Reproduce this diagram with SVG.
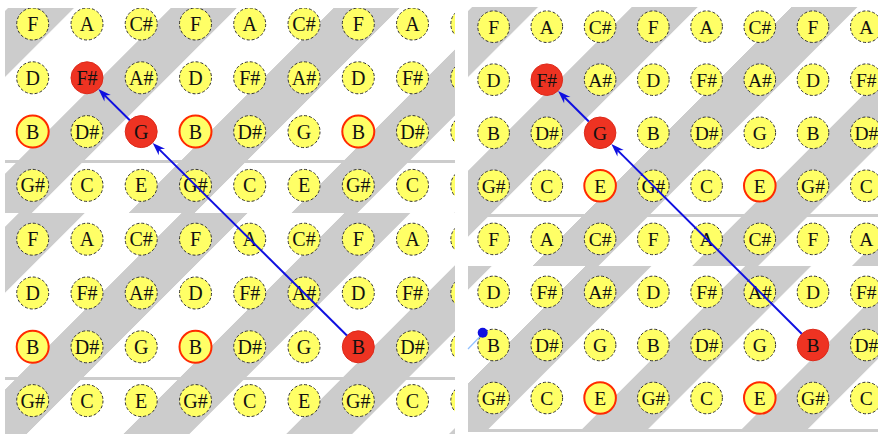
<svg xmlns="http://www.w3.org/2000/svg" width="878" height="434" viewBox="0 0 878 434">
<style>
.n circle{fill:#ffff66;stroke:#333;stroke-width:1;stroke-dasharray:3 2}
.hl circle{stroke:#ff2a00;stroke-width:2;stroke-dasharray:none}
.on circle{fill:#ee3322;stroke:#dd2a1a;stroke-width:1;stroke-dasharray:none}
text{font-family:"Liberation Serif","Times New Roman",serif;font-size:20px;text-anchor:middle;fill:#111}
.R text{font-size:19.5px}
.bar{fill:#cccccc}
.arr{stroke:#1010e0;stroke-width:2;fill:none;marker-end:url(#ah)}
</style>
<defs>
<marker id="ah" viewBox="-9 -5 15 10" refX="0" refY="0" markerWidth="15" markerHeight="10" markerUnits="userSpaceOnUse" orient="auto"><path d="M5,0 L-8,-4.5 L-4,0 L-8,4.5 Z" fill="#1010e0"/></marker>
<pattern id="pL1" patternUnits="userSpaceOnUse" width="162.8" height="10" patternTransform="translate(16,0) skewX(-45)"><rect x="0" y="0" width="66" height="10" fill="#cccccc"/></pattern>
<pattern id="pL2" patternUnits="userSpaceOnUse" width="162.8" height="10" patternTransform="translate(69,0) skewX(-45)"><rect x="0" y="0" width="66" height="10" fill="#cccccc"/></pattern>
<pattern id="pR1" patternUnits="userSpaceOnUse" width="159.7" height="10" patternTransform="translate(0,0) skewX(-45)"><rect x="0" y="0" width="66" height="10" fill="#cccccc"/></pattern>
<pattern id="pR2" patternUnits="userSpaceOnUse" width="159.7" height="10" patternTransform="translate(53,0) skewX(-45)"><rect x="0" y="0" width="66" height="10" fill="#cccccc"/></pattern>
<clipPath id="cL"><rect x="5" y="8" width="450" height="426"/></clipPath>
<clipPath id="cR"><rect x="468" y="7" width="410" height="427"/></clipPath>
</defs>
<rect width="878" height="434" fill="#ffffff"/>
<g id="bgL" clip-path="url(#cL)">
<rect x="5" y="8" width="450" height="153" fill="url(#pL1)"/>
<rect x="5" y="163" width="450" height="50" fill="url(#pL1)"/>
<rect x="5" y="213" width="450" height="164" fill="url(#pL2)"/>
<rect x="5" y="380" width="450" height="54" fill="url(#pL2)"/>
<rect class="bar" x="5" y="160" width="450" height="3"/>
<rect class="bar" x="5" y="377" width="450" height="3"/>
</g>
<g id="bgR" clip-path="url(#cR)">
<rect x="468" y="7" width="410" height="207" fill="url(#pR1)"/>
<rect x="468" y="217" width="410" height="49" fill="url(#pR1)"/>
<rect x="468" y="266" width="410" height="163" fill="url(#pR2)"/>
<rect class="bar" x="468" y="214" width="410" height="3"/>
<rect class="bar" x="468" y="429" width="410" height="3"/>
</g>
<g id="nodesL" clip-path="url(#cL)">
<g id="L1-1" class="n"><circle cx="32.7" cy="24" r="16"/><text x="32.7" y="31">F</text></g>
<g id="L1-2" class="n"><circle cx="87" cy="24" r="16"/><text x="87" y="31">A</text></g>
<g id="L1-3" class="n"><circle cx="141.2" cy="24" r="16"/><text x="141.2" y="31">C#</text></g>
<g id="L1-4" class="n"><circle cx="195.5" cy="24" r="16"/><text x="195.5" y="31">F</text></g>
<g id="L1-5" class="n"><circle cx="249.7" cy="24" r="16"/><text x="249.7" y="31">A</text></g>
<g id="L1-6" class="n"><circle cx="304" cy="24" r="16"/><text x="304" y="31">C#</text></g>
<g id="L1-7" class="n"><circle cx="358.3" cy="24" r="16"/><text x="358.3" y="31">F</text></g>
<g id="L1-8" class="n"><circle cx="412.5" cy="24" r="16"/><text x="412.5" y="31">A</text></g>
<g id="L1-9" class="n"><circle cx="466.8" cy="24" r="16"/></g>
<g id="L2-1" class="n"><circle cx="32.7" cy="77.8" r="16"/><text x="32.7" y="84.8">D</text></g>
<g id="L2-2" class="n on"><circle cx="87" cy="77.8" r="16"/><text x="87" y="84.8">F#</text></g>
<g id="L2-3" class="n"><circle cx="141.2" cy="77.8" r="16"/><text x="141.2" y="84.8">A#</text></g>
<g id="L2-4" class="n"><circle cx="195.5" cy="77.8" r="16"/><text x="195.5" y="84.8">D</text></g>
<g id="L2-5" class="n"><circle cx="249.7" cy="77.8" r="16"/><text x="249.7" y="84.8">F#</text></g>
<g id="L2-6" class="n"><circle cx="304" cy="77.8" r="16"/><text x="304" y="84.8">A#</text></g>
<g id="L2-7" class="n"><circle cx="358.3" cy="77.8" r="16"/><text x="358.3" y="84.8">D</text></g>
<g id="L2-8" class="n"><circle cx="412.5" cy="77.8" r="16"/><text x="412.5" y="84.8">F#</text></g>
<g id="L2-9" class="n"><circle cx="466.8" cy="77.8" r="16"/></g>
<g id="L3-1" class="n hl"><circle cx="32.7" cy="131.6" r="16"/><text x="32.7" y="138.6">B</text></g>
<g id="L3-2" class="n"><circle cx="87" cy="131.6" r="16"/><text x="87" y="138.6">D#</text></g>
<g id="L3-3" class="n on"><circle cx="141.2" cy="131.6" r="16"/><text x="141.2" y="138.6">G</text></g>
<g id="L3-4" class="n hl"><circle cx="195.5" cy="131.6" r="16"/><text x="195.5" y="138.6">B</text></g>
<g id="L3-5" class="n"><circle cx="249.7" cy="131.6" r="16"/><text x="249.7" y="138.6">D#</text></g>
<g id="L3-6" class="n"><circle cx="304" cy="131.6" r="16"/><text x="304" y="138.6">G</text></g>
<g id="L3-7" class="n hl"><circle cx="358.3" cy="131.6" r="16"/><text x="358.3" y="138.6">B</text></g>
<g id="L3-8" class="n"><circle cx="412.5" cy="131.6" r="16"/><text x="412.5" y="138.6">D#</text></g>
<g id="L3-9" class="n"><circle cx="466.8" cy="131.6" r="16"/></g>
<g id="L4-1" class="n"><circle cx="32.7" cy="185.4" r="16"/><text x="32.7" y="192.4">G#</text></g>
<g id="L4-2" class="n"><circle cx="87" cy="185.4" r="16"/><text x="87" y="192.4">C</text></g>
<g id="L4-3" class="n"><circle cx="141.2" cy="185.4" r="16"/><text x="141.2" y="192.4">E</text></g>
<g id="L4-4" class="n"><circle cx="195.5" cy="185.4" r="16"/><text x="195.5" y="192.4">G#</text></g>
<g id="L4-5" class="n"><circle cx="249.7" cy="185.4" r="16"/><text x="249.7" y="192.4">C</text></g>
<g id="L4-6" class="n"><circle cx="304" cy="185.4" r="16"/><text x="304" y="192.4">E</text></g>
<g id="L4-7" class="n"><circle cx="358.3" cy="185.4" r="16"/><text x="358.3" y="192.4">G#</text></g>
<g id="L4-8" class="n"><circle cx="412.5" cy="185.4" r="16"/><text x="412.5" y="192.4">C</text></g>
<g id="L4-9" class="n"><circle cx="466.8" cy="185.4" r="16"/></g>
<g id="L5-1" class="n"><circle cx="32.7" cy="239.2" r="16"/><text x="32.7" y="246.2">F</text></g>
<g id="L5-2" class="n"><circle cx="87" cy="239.2" r="16"/><text x="87" y="246.2">A</text></g>
<g id="L5-3" class="n"><circle cx="141.2" cy="239.2" r="16"/><text x="141.2" y="246.2">C#</text></g>
<g id="L5-4" class="n"><circle cx="195.5" cy="239.2" r="16"/><text x="195.5" y="246.2">F</text></g>
<g id="L5-5" class="n"><circle cx="249.7" cy="239.2" r="16"/><text x="249.7" y="246.2">A</text></g>
<g id="L5-6" class="n"><circle cx="304" cy="239.2" r="16"/><text x="304" y="246.2">C#</text></g>
<g id="L5-7" class="n"><circle cx="358.3" cy="239.2" r="16"/><text x="358.3" y="246.2">F</text></g>
<g id="L5-8" class="n"><circle cx="412.5" cy="239.2" r="16"/><text x="412.5" y="246.2">A</text></g>
<g id="L5-9" class="n"><circle cx="466.8" cy="239.2" r="16"/></g>
<g id="L6-1" class="n"><circle cx="32.7" cy="293" r="16"/><text x="32.7" y="300">D</text></g>
<g id="L6-2" class="n"><circle cx="87" cy="293" r="16"/><text x="87" y="300">F#</text></g>
<g id="L6-3" class="n"><circle cx="141.2" cy="293" r="16"/><text x="141.2" y="300">A#</text></g>
<g id="L6-4" class="n"><circle cx="195.5" cy="293" r="16"/><text x="195.5" y="300">D</text></g>
<g id="L6-5" class="n"><circle cx="249.7" cy="293" r="16"/><text x="249.7" y="300">F#</text></g>
<g id="L6-6" class="n"><circle cx="304" cy="293" r="16"/><text x="304" y="300">A#</text></g>
<g id="L6-7" class="n"><circle cx="358.3" cy="293" r="16"/><text x="358.3" y="300">D</text></g>
<g id="L6-8" class="n"><circle cx="412.5" cy="293" r="16"/><text x="412.5" y="300">F#</text></g>
<g id="L6-9" class="n"><circle cx="466.8" cy="293" r="16"/></g>
<g id="L7-1" class="n hl"><circle cx="32.7" cy="346.8" r="16"/><text x="32.7" y="353.8">B</text></g>
<g id="L7-2" class="n"><circle cx="87" cy="346.8" r="16"/><text x="87" y="353.8">D#</text></g>
<g id="L7-3" class="n"><circle cx="141.2" cy="346.8" r="16"/><text x="141.2" y="353.8">G</text></g>
<g id="L7-4" class="n hl"><circle cx="195.5" cy="346.8" r="16"/><text x="195.5" y="353.8">B</text></g>
<g id="L7-5" class="n"><circle cx="249.7" cy="346.8" r="16"/><text x="249.7" y="353.8">D#</text></g>
<g id="L7-6" class="n"><circle cx="304" cy="346.8" r="16"/><text x="304" y="353.8">G</text></g>
<g id="L7-7" class="n on"><circle cx="358.3" cy="346.8" r="16"/><text x="358.3" y="353.8">B</text></g>
<g id="L7-8" class="n"><circle cx="412.5" cy="346.8" r="16"/><text x="412.5" y="353.8">D#</text></g>
<g id="L7-9" class="n"><circle cx="466.8" cy="346.8" r="16"/></g>
<g id="L8-1" class="n"><circle cx="32.7" cy="400.6" r="16"/><text x="32.7" y="407.6">G#</text></g>
<g id="L8-2" class="n"><circle cx="87" cy="400.6" r="16"/><text x="87" y="407.6">C</text></g>
<g id="L8-3" class="n"><circle cx="141.2" cy="400.6" r="16"/><text x="141.2" y="407.6">E</text></g>
<g id="L8-4" class="n"><circle cx="195.5" cy="400.6" r="16"/><text x="195.5" y="407.6">G#</text></g>
<g id="L8-5" class="n"><circle cx="249.7" cy="400.6" r="16"/><text x="249.7" y="407.6">C</text></g>
<g id="L8-6" class="n"><circle cx="304" cy="400.6" r="16"/><text x="304" y="407.6">E</text></g>
<g id="L8-7" class="n"><circle cx="358.3" cy="400.6" r="16"/><text x="358.3" y="407.6">G#</text></g>
<g id="L8-8" class="n"><circle cx="412.5" cy="400.6" r="16"/><text x="412.5" y="407.6">C</text></g>
<g id="L8-9" class="n"><circle cx="466.8" cy="400.6" r="16"/></g>
</g>
<g id="nodesR" class="R" clip-path="url(#cR)">
<g id="R1-1" class="n"><circle cx="493.6" cy="26.7" r="15.8"/><text x="493.6" y="33.5">F</text></g>
<g id="R1-2" class="n"><circle cx="546.8" cy="26.7" r="15.8"/><text x="546.8" y="33.5">A</text></g>
<g id="R1-3" class="n"><circle cx="600.1" cy="26.7" r="15.8"/><text x="600.1" y="33.5">C#</text></g>
<g id="R1-4" class="n"><circle cx="653.3" cy="26.7" r="15.8"/><text x="653.3" y="33.5">F</text></g>
<g id="R1-5" class="n"><circle cx="706.6" cy="26.7" r="15.8"/><text x="706.6" y="33.5">A</text></g>
<g id="R1-6" class="n"><circle cx="759.8" cy="26.7" r="15.8"/><text x="759.8" y="33.5">C#</text></g>
<g id="R1-7" class="n"><circle cx="813" cy="26.7" r="15.8"/><text x="813" y="33.5">F</text></g>
<g id="R1-8" class="n"><circle cx="866.3" cy="26.7" r="15.8"/><text x="866.3" y="33.5">A</text></g>
<g id="R2-1" class="n"><circle cx="493.6" cy="79.7" r="15.8"/><text x="493.6" y="86.5">D</text></g>
<g id="R2-2" class="n on"><circle cx="546.8" cy="79.7" r="15.8"/><text x="546.8" y="86.5">F#</text></g>
<g id="R2-3" class="n"><circle cx="600.1" cy="79.7" r="15.8"/><text x="600.1" y="86.5">A#</text></g>
<g id="R2-4" class="n"><circle cx="653.3" cy="79.7" r="15.8"/><text x="653.3" y="86.5">D</text></g>
<g id="R2-5" class="n"><circle cx="706.6" cy="79.7" r="15.8"/><text x="706.6" y="86.5">F#</text></g>
<g id="R2-6" class="n"><circle cx="759.8" cy="79.7" r="15.8"/><text x="759.8" y="86.5">A#</text></g>
<g id="R2-7" class="n"><circle cx="813" cy="79.7" r="15.8"/><text x="813" y="86.5">D</text></g>
<g id="R2-8" class="n"><circle cx="866.3" cy="79.7" r="15.8"/><text x="866.3" y="86.5">F#</text></g>
<g id="R3-1" class="n"><circle cx="493.6" cy="132.8" r="15.8"/><text x="493.6" y="139.6">B</text></g>
<g id="R3-2" class="n"><circle cx="546.8" cy="132.8" r="15.8"/><text x="546.8" y="139.6">D#</text></g>
<g id="R3-3" class="n on"><circle cx="600.1" cy="132.8" r="15.8"/><text x="600.1" y="139.6">G</text></g>
<g id="R3-4" class="n"><circle cx="653.3" cy="132.8" r="15.8"/><text x="653.3" y="139.6">B</text></g>
<g id="R3-5" class="n"><circle cx="706.6" cy="132.8" r="15.8"/><text x="706.6" y="139.6">D#</text></g>
<g id="R3-6" class="n"><circle cx="759.8" cy="132.8" r="15.8"/><text x="759.8" y="139.6">G</text></g>
<g id="R3-7" class="n"><circle cx="813" cy="132.8" r="15.8"/><text x="813" y="139.6">B</text></g>
<g id="R3-8" class="n"><circle cx="866.3" cy="132.8" r="15.8"/><text x="866.3" y="139.6">D#</text></g>
<g id="R4-1" class="n"><circle cx="493.6" cy="185.8" r="15.8"/><text x="493.6" y="192.6">G#</text></g>
<g id="R4-2" class="n"><circle cx="546.8" cy="185.8" r="15.8"/><text x="546.8" y="192.6">C</text></g>
<g id="R4-3" class="n hl"><circle cx="600.1" cy="185.8" r="15.8"/><text x="600.1" y="192.6">E</text></g>
<g id="R4-4" class="n"><circle cx="653.3" cy="185.8" r="15.8"/><text x="653.3" y="192.6">G#</text></g>
<g id="R4-5" class="n"><circle cx="706.6" cy="185.8" r="15.8"/><text x="706.6" y="192.6">C</text></g>
<g id="R4-6" class="n hl"><circle cx="759.8" cy="185.8" r="15.8"/><text x="759.8" y="192.6">E</text></g>
<g id="R4-7" class="n"><circle cx="813" cy="185.8" r="15.8"/><text x="813" y="192.6">G#</text></g>
<g id="R4-8" class="n"><circle cx="866.3" cy="185.8" r="15.8"/><text x="866.3" y="192.6">C</text></g>
<g id="R5-1" class="n"><circle cx="493.6" cy="238.9" r="15.8"/><text x="493.6" y="245.7">F</text></g>
<g id="R5-2" class="n"><circle cx="546.8" cy="238.9" r="15.8"/><text x="546.8" y="245.7">A</text></g>
<g id="R5-3" class="n"><circle cx="600.1" cy="238.9" r="15.8"/><text x="600.1" y="245.7">C#</text></g>
<g id="R5-4" class="n"><circle cx="653.3" cy="238.9" r="15.8"/><text x="653.3" y="245.7">F</text></g>
<g id="R5-5" class="n"><circle cx="706.6" cy="238.9" r="15.8"/><text x="706.6" y="245.7">A</text></g>
<g id="R5-6" class="n"><circle cx="759.8" cy="238.9" r="15.8"/><text x="759.8" y="245.7">C#</text></g>
<g id="R5-7" class="n"><circle cx="813" cy="238.9" r="15.8"/><text x="813" y="245.7">F</text></g>
<g id="R5-8" class="n"><circle cx="866.3" cy="238.9" r="15.8"/><text x="866.3" y="245.7">A</text></g>
<g id="R6-1" class="n"><circle cx="493.6" cy="291.9" r="15.8"/><text x="493.6" y="298.7">D</text></g>
<g id="R6-2" class="n"><circle cx="546.8" cy="291.9" r="15.8"/><text x="546.8" y="298.7">F#</text></g>
<g id="R6-3" class="n"><circle cx="600.1" cy="291.9" r="15.8"/><text x="600.1" y="298.7">A#</text></g>
<g id="R6-4" class="n"><circle cx="653.3" cy="291.9" r="15.8"/><text x="653.3" y="298.7">D</text></g>
<g id="R6-5" class="n"><circle cx="706.6" cy="291.9" r="15.8"/><text x="706.6" y="298.7">F#</text></g>
<g id="R6-6" class="n"><circle cx="759.8" cy="291.9" r="15.8"/><text x="759.8" y="298.7">A#</text></g>
<g id="R6-7" class="n"><circle cx="813" cy="291.9" r="15.8"/><text x="813" y="298.7">D</text></g>
<g id="R6-8" class="n"><circle cx="866.3" cy="291.9" r="15.8"/><text x="866.3" y="298.7">F#</text></g>
<g id="R7-1" class="n"><circle cx="493.6" cy="345" r="15.8"/><text x="493.6" y="351.8">B</text></g>
<g id="R7-2" class="n"><circle cx="546.8" cy="345" r="15.8"/><text x="546.8" y="351.8">D#</text></g>
<g id="R7-3" class="n"><circle cx="600.1" cy="345" r="15.8"/><text x="600.1" y="351.8">G</text></g>
<g id="R7-4" class="n"><circle cx="653.3" cy="345" r="15.8"/><text x="653.3" y="351.8">B</text></g>
<g id="R7-5" class="n"><circle cx="706.6" cy="345" r="15.8"/><text x="706.6" y="351.8">D#</text></g>
<g id="R7-6" class="n"><circle cx="759.8" cy="345" r="15.8"/><text x="759.8" y="351.8">G</text></g>
<g id="R7-7" class="n on"><circle cx="813" cy="345" r="15.8"/><text x="813" y="351.8">B</text></g>
<g id="R7-8" class="n"><circle cx="866.3" cy="345" r="15.8"/><text x="866.3" y="351.8">D#</text></g>
<g id="R8-1" class="n"><circle cx="493.6" cy="398" r="15.8"/><text x="493.6" y="404.8">G#</text></g>
<g id="R8-2" class="n"><circle cx="546.8" cy="398" r="15.8"/><text x="546.8" y="404.8">C</text></g>
<g id="R8-3" class="n hl"><circle cx="600.1" cy="398" r="15.8"/><text x="600.1" y="404.8">E</text></g>
<g id="R8-4" class="n"><circle cx="653.3" cy="398" r="15.8"/><text x="653.3" y="404.8">G#</text></g>
<g id="R8-5" class="n"><circle cx="706.6" cy="398" r="15.8"/><text x="706.6" y="404.8">C</text></g>
<g id="R8-6" class="n hl"><circle cx="759.8" cy="398" r="15.8"/><text x="759.8" y="404.8">E</text></g>
<g id="R8-7" class="n"><circle cx="813" cy="398" r="15.8"/><text x="813" y="404.8">G#</text></g>
<g id="R8-8" class="n"><circle cx="866.3" cy="398" r="15.8"/><text x="866.3" y="404.8">C</text></g>
</g>
<g id="connectors">
<line class="arr" x1="346.9" y1="335.5" x2="156.2" y2="146.4"/>
<line class="arr" x1="129.8" y1="120.3" x2="101.9" y2="92.6"/>
<line class="arr" x1="801.7" y1="333.7" x2="614.9" y2="147.6"/>
<line class="arr" x1="588.8" y1="121.5" x2="561.6" y2="94.5"/>
<line x1="468" y1="349" x2="480" y2="336.5" stroke="#8fc0ff" stroke-width="1.2"/>
<circle id="cursor" cx="482.7" cy="332.7" r="5" fill="#1010e0"/>
</g>
</svg>
